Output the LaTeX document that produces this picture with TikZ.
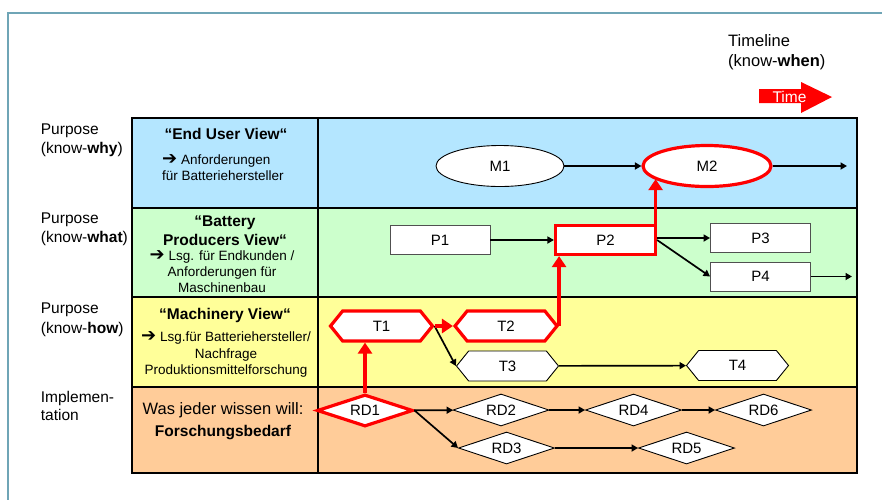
\documentclass[tikz,border=0pt]{standalone}
\usepackage{fontspec}
\setmainfont{Liberation Sans}
\newfontfamily\symfont{DejaVu Sans}
\usetikzlibrary{shapes.geometric,shapes.symbols,arrows.meta}

\definecolor{framecol}{HTML}{6FA5B6}
\definecolor{whyband}{HTML}{B4E6FF}
\definecolor{whatband}{HTML}{CCFFCC}
\definecolor{howband}{HTML}{FFFF99}
\definecolor{implband}{HTML}{FFCC99}
\definecolor{hotred}{HTML}{FF0000}
\definecolor{edgegrey}{HTML}{505050}

\newcommand{\leadarrow}{{\symfont\bfseries\fontsize{18}{16}\selectfont ➔}}

\begin{document}
\begin{tikzpicture}[x=1pt,y=-1pt,
  sidelabel/.style={font=\fontsize{15.5}{18}\selectfont, anchor=base west, inner sep=0},
  viewtitle/.style={font=\bfseries\fontsize{15.5}{18}\selectfont, anchor=base, inner sep=0},
  viewnote/.style={font=\fontsize{13.5}{16}\selectfont, anchor=base, inner sep=0},
  tableline/.style={line width=2.2pt, black},
  basenode/.style={fill=white, draw=black, line width=0.9pt, inner sep=0,
    font=\fontsize{15}{18}\selectfont},
  milestone/.style={basenode, ellipse, minimum width=128pt, minimum height=41pt},
  product/.style={basenode, rectangle, draw=edgegrey, minimum width=100pt, minimum height=29pt},
  tech/.style={basenode, signal, signal to=east and west, signal pointer angle=102,
    minimum width=102pt, minimum height=30pt},
  research/.style={basenode, diamond, aspect=3, minimum width=96pt, minimum height=32pt},
  critical/.style={draw=hotred, line width=3.2pt},
  flow/.style={draw=black, line width=1.7pt, -{Triangle[length=6.5pt,width=7pt]}},
  critflow/.style={draw=hotred, line width=3.5pt,
    -{Triangle[length=11pt,width=14pt]}}
]
\useasboundingbox (0,0) rectangle (882,499);
\clip (0,0) rectangle (882,499);

% outer frame of the slide
\draw[framecol, line width=2pt] (8,13) rectangle (900,520);

% timeline heading and time arrow
\node[anchor=base west, inner sep=0, font=\fontsize{16.5}{19}\selectfont] (tline) at (728,46) {Timeline};
\node[anchor=base west, inner sep=0, font=\fontsize{16.5}{19}\selectfont] (twhen) at (728,66) {(know-\textbf{when})};
\fill[hotred] (759,89) -- (801,89) -- (801,82) -- (832,97) -- (801,113) -- (801,103) -- (759,103) -- cycle;
\node[inner sep=0, text=white, font=\fontsize{15.5}{17}\selectfont] (tword) at (789.5,96.5) {Time};

% bands of the table
\fill[whyband]  (132,118) rectangle (857,208);
\fill[whatband] (132,208) rectangle (857,297);
\fill[howband]  (132,297) rectangle (857,387);
\fill[implband] (132,387) rectangle (857,473);
\draw[tableline] (132,118) rectangle (857,473);
\draw[tableline] (132,208) -- (857,208);
\draw[tableline] (132,297) -- (857,297);
\draw[tableline] (132,387) -- (857,387);
\draw[tableline] (318,118) -- (318,473);

% row labels on the left
\node[sidelabel] (why1)  at (40.7,134)   {Purpose};
\node[sidelabel] (why2)  at (40.7,153.3) {(know-\textbf{why})};
\node[sidelabel] (what1) at (40.7,223.3) {Purpose};
\node[sidelabel] (what2) at (40.7,242.7) {(know-\textbf{what})};
\node[sidelabel] (how1)  at (40.7,313.3) {Purpose};
\node[sidelabel] (how2)  at (40.7,333.3) {(know-\textbf{how})};
\node[sidelabel] (impl1) at (40.7,402.3) {Implemen-};
\node[sidelabel] (impl2) at (40.7,420)   {tation};

% view descriptions
\node[viewtitle] (eu1) at (226,139.3) {“End User View“};
\node[viewnote, anchor=base west] (eu2) at (162,164) {\leadarrow\ Anforderungen};
\node[viewnote, anchor=base west] (eu3) at (162,180) {für Batteriehersteller};

\node[viewtitle] (bp1) at (225,226) {“Battery};
\node[viewtitle] (bp2) at (225,245) {Producers View“};
\node[viewnote]  (bp3) at (222,260) {\leadarrow\ Lsg. für Endkunden /};
\node[viewnote]  (bp4) at (222,276.7) {Anforderungen für};
\node[viewnote]  (bp5) at (222,292.7) {Maschinenbau};

\node[viewtitle] (mv1) at (225,319.3) {“Machinery View“};
\node[viewnote]  (mv2) at (226,341.7) {\leadarrow\ Lsg.für Batteriehersteller/};
\node[viewnote]  (mv3) at (226,358.3) {Nachfrage};
\node[viewnote]  (mv4) at (226,374.3) {Produktionsmittelforschung};

\node[viewnote, font=\fontsize{16.5}{19}\selectfont] (rq1) at (223,414) {Was jeder wissen will:};
\node[viewtitle] (rq2) at (223,436.7) {Forschungsbedarf};

% milestones, products, technologies, research needs
\node[milestone] (M1) at (500,166) {M1};
\node[milestone, critical] (M2) at (707,166) {M2};
\node[product] (P1) at (440,240) {P1};
\node[product, critical] (P2) at (605.5,240) {P2};
\node[product] (P3) at (760.5,238) {P3};
\node[product] (P4) at (760.5,276.5) {P4};
\node[tech, critical] (T1) at (381.5,326) {T1};
\node[tech, critical] (T2) at (506,326) {T2};
\node[tech] (T3) at (507.5,366) {T3};
\node[tech] (T4) at (737.5,365.5) {T4};
\node[research, critical] (RD1) at (365,410.5) {RD1};
\node[research] (RD2) at (501,410) {RD2};
\node[research] (RD4) at (633.5,410) {RD4};
\node[research] (RD6) at (763.5,410) {RD6};
\node[research] (RD3) at (506.5,448) {RD3};
\node[research] (RD5) at (686.5,448) {RD5};

\coordinate (whyEnd)  at (847,166);
\coordinate (whatEnd) at (852,276.5);

% ordinary dependencies
\draw[flow] (M1) -- (M2);
\draw[flow] (M2) -- (whyEnd);
\draw[flow] (P1) -- (P2);
\draw[flow] (P2.east |- P3.west) -- (P3.west);
\draw[flow] (P2.east) -- (P4.west);
\draw[flow] (P4) -- (whatEnd);
\draw[flow] (T1.east) -- (T3.west);
\draw[flow] (T3) -- (T4);
\draw[flow] (RD1) -- (RD2);
\draw[flow] (RD2) -- (RD4);
\draw[flow] (RD4) -- (RD6);
\draw[flow] (RD1.east) -- (RD3.west);
\draw[flow] (RD3) -- (RD5);

% critical path
\draw[critflow] (RD1.north) -- (RD1.north |- T1.south);
\draw[critflow] (T1.east) -- (T2.west);
\draw[critflow] (T2.east) -- (T2.east |- P2.south);
\draw[critflow] ([xshift=-1.5pt]P2.north east) -- ([xshift=-1.5pt]P2.north east |- M2.194);
\end{tikzpicture}
\end{document}
